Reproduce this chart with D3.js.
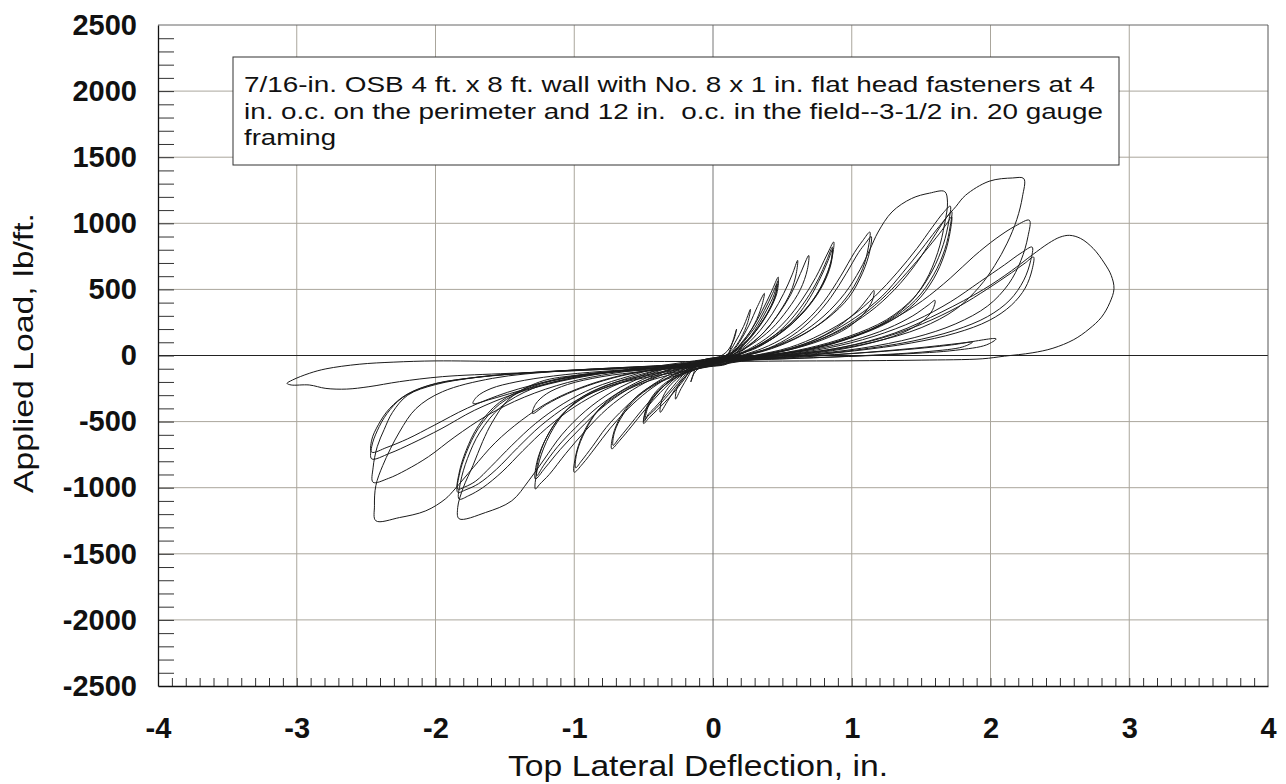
<!DOCTYPE html>
<html>
<head>
<meta charset="utf-8">
<script src="https://cdn.jsdelivr.net/npm/d3@7"></script>
<style>
  body { margin: 0; background: #fff; }
  svg { display: block; font-family: "Liberation Sans", Arial, sans-serif; }
</style>
</head>
<body>
<div id="chart"></div>
<script>
// axis ticks
var xTicks = [-4, -3, -2, -1, 0, 1, 2, 3, 4];
var yTicks = [-2500, -2000, -1500, -1000, -500, 0, 500, 1000, 1500, 2000, 2500];
var xGrid = [-3, -2, -1, 1, 2, 3];
var yGrid = [-2000, -1500, -1000, -500, 500, 1000, 1500, 2000];

var noteLines = [
  "7/16-in. OSB 4 ft. x 8 ft. wall with No. 8 x 1 in. flat head fasteners at 4",
  "in. o.c. on the perimeter and 12 in.  o.c. in the field--3-1/2 in. 20 gauge",
  "framing"
];
var noteWidths = [851, 859, 92];

// positive excursions (deflection in., load lb/ft.)
var posLoops = [
  [[0.1,0],[0.14,100],[0.17,200],[0.15,120],[0.1,30],[0.04,-10],[-0.06,-30]],
  [[0.1,0],[0.16,100],[0.22,220],[0.27,350],[0.25,250],[0.2,130],[0.13,30],[0.04,-25],[-0.08,-55]],
  [[0.12,0],[0.19,100],[0.26,230],[0.32,370],[0.37,470],[0.35,370],[0.3,240],[0.22,110],[0.13,20],[0.04,-18],[-0.05,-40]],
  [[0.12,0],[0.2,90],[0.28,200],[0.35,330],[0.42,480],[0.47,593],[0.46,500],[0.42,380],[0.35,250],[0.26,120],[0.16,30],[0.05,-30],[-0.1,-65]],
  [[0.13,0],[0.21,90],[0.3,210],[0.37,340],[0.43,470],[0.47,565],[0.46,470],[0.41,350],[0.33,220],[0.24,105],[0.15,25],[0.05,-12],[-0.06,-35]],
  [[0.14,0],[0.23,90],[0.32,220],[0.39,350],[0.44,460],[0.46,540],[0.45,450],[0.4,330],[0.32,200],[0.22,90],[0.13,20],[0.04,-22],[-0.07,-50]],
  [[0.14,0],[0.24,80],[0.34,190],[0.43,320],[0.51,470],[0.57,610],[0.61,720],[0.6,620],[0.56,480],[0.48,330],[0.38,190],[0.26,80],[0.14,5],[0.04,-35],[-0.1,-70]],
  [[0.15,0],[0.26,75],[0.37,180],[0.47,310],[0.56,460],[0.63,620],[0.69,757],[0.68,650],[0.63,500],[0.54,350],[0.42,200],[0.28,85],[0.15,10],[0.05,-18],[-0.05,-40]],
  [[0.16,0],[0.28,60],[0.41,150],[0.53,270],[0.64,420],[0.74,590],[0.82,760],[0.87,859],[0.86,750],[0.81,590],[0.72,420],[0.59,270],[0.44,150],[0.28,50],[0.14,-10],[0.03,-32],[-0.09,-60]],
  [[0.17,0],[0.3,60],[0.44,150],[0.56,270],[0.67,420],[0.76,580],[0.82,720],[0.86,820],[0.85,710],[0.8,560],[0.7,390],[0.57,240],[0.41,115],[0.25,35],[0.12,-5],[0.03,-15],[-0.06,-30]],
  [[0.18,0],[0.32,60],[0.47,160],[0.6,290],[0.7,440],[0.78,600],[0.83,720],[0.86,800],[0.85,690],[0.79,530],[0.68,360],[0.54,215],[0.38,100],[0.22,25],[0.1,-22],[0.01,-45],[-0.1,-75]],
  [[0.2,0],[0.36,55],[0.52,140],[0.67,260],[0.8,410],[0.92,600],[1.02,780],[1.08,870],[1.13,934],[1.12,820],[1.08,660],[0.99,480],[0.85,310],[0.67,170],[0.47,70],[0.28,10],[0.12,-18],[0.02,-30],[-0.07,-45]],
  [[0.22,0],[0.4,55],[0.57,150],[0.72,280],[0.85,440],[0.96,620],[1.05,780],[1.1,850],[1.14,900],[1.13,790],[1.08,630],[0.98,440],[0.83,285],[0.64,155],[0.43,60],[0.24,0],[0.1,-30],[0.0,-45],[-0.09,-60]],
  [[0.22,0],[0.42,60],[0.62,160],[0.8,300],[0.95,470],[1.06,650],[1.13,800],[1.19,934],[1.29,1086],[1.43,1187],[1.56,1228],[1.67,1240],[1.69,1160],[1.67,1000],[1.62,780],[1.53,560],[1.4,380],[1.2,230],[0.95,120],[0.65,40],[0.38,5],[0.15,-12],[0.01,-22],[-0.08,-35]],
  [[0.3,0],[0.55,50],[0.76,130],[0.93,240],[1.05,350],[1.12,440],[1.16,492],[1.15,420],[1.09,320],[0.97,210],[0.78,115],[0.54,40],[0.3,-10],[0.1,-40],[-0.1,-70]],
  [[0.3,0],[0.55,60],[0.78,160],[0.99,290],[1.17,450],[1.33,630],[1.47,810],[1.58,970],[1.66,1080],[1.71,1130],[1.7,1020],[1.66,840],[1.58,640],[1.45,440],[1.25,270],[0.98,145],[0.68,55],[0.38,0],[0.13,-25],[-0.06,-50]],
  [[0.32,0],[0.58,60],[0.82,160],[1.03,290],[1.22,450],[1.37,630],[1.5,800],[1.61,950],[1.68,1040],[1.72,1090],[1.71,980],[1.67,800],[1.59,610],[1.46,420],[1.26,260],[0.99,140],[0.69,50],[0.39,-5],[0.14,-40],[-0.1,-80]],
  [[0.34,0],[0.61,60],[0.86,165],[1.07,300],[1.25,460],[1.4,630],[1.53,790],[1.63,920],[1.69,1005],[1.72,1050],[1.71,940],[1.67,770],[1.59,580],[1.46,400],[1.27,255],[1.0,135],[0.7,45],[0.4,0],[0.15,-20],[-0.05,-40]],
  [[0.35,0],[0.63,70],[0.9,180],[1.13,330],[1.31,500],[1.46,690],[1.58,880],[1.68,1040],[1.75,1126],[1.82,1212],[1.99,1318],[2.16,1343],[2.24,1338],[2.23,1200],[2.19,1030],[2.12,850],[2.03,680],[1.92,520],[1.75,350],[1.5,210],[1.15,100],[0.78,30],[0.42,-10],[0.15,-35],[-0.08,-65]],
  [[0.4,0],[0.72,45],[1.01,115],[1.26,205],[1.44,300],[1.55,380],[1.6,417],[1.58,340],[1.5,250],[1.35,165],[1.1,85],[0.78,25],[0.43,-5],[0.15,-18],[-0.05,-30]],
  [[0.4,0],[0.72,55],[1.02,145],[1.28,265],[1.51,415],[1.71,585],[1.88,750],[2.04,885],[2.18,980],[2.28,1023],[2.27,900],[2.22,720],[2.13,540],[1.98,375],[1.75,240],[1.45,135],[1.07,55],[0.65,5],[0.28,-25],[0.05,-40],[-0.07,-55]],
  [[0.45,0],[0.82,55],[1.16,145],[1.46,265],[1.71,405],[1.92,555],[2.1,685],[2.22,775],[2.3,820],[2.29,720],[2.24,570],[2.14,420],[1.98,295],[1.74,190],[1.42,105],[1.02,40],[0.6,-5],[0.25,-35],[0.02,-55],[-0.1,-75]],
  [[0.48,0],[0.87,50],[1.21,130],[1.51,240],[1.77,370],[1.98,505],[2.15,625],[2.25,700],[2.31,745],[2.3,650],[2.25,510],[2.15,380],[1.99,265],[1.75,170],[1.43,95],[1.02,35],[0.6,-5],[0.25,-22],[0.04,-32],[-0.06,-45]],
  [[0.5,0],[0.92,60],[1.31,170],[1.65,330],[1.95,500],[2.15,640],[2.3,760],[2.42,850],[2.5,895],[2.57,909],[2.65,885],[2.74,810],[2.82,700],[2.87,606],[2.89,505],[2.86,400],[2.8,290],[2.71,200],[2.6,120],[2.45,55],[2.3,20],[2.1,-5],[1.94,-25],[1.5,-35],[1.0,-40],[0.5,-42],[0.1,-45]],
  [[0.5,-20],[1.0,15],[1.45,55],[1.8,95],[2.04,126],[1.97,80],[1.75,40],[1.35,10],[0.85,-12],[0.35,-30],[0.0,-45]],
  [[0.5,-15],[1.0,15],[1.45,50],[1.72,80],[1.87,101],[1.8,65],[1.55,30],[1.1,0],[0.6,-22],[0.15,-38],[-0.05,-45]]
];

// negative excursions
var negLoops = [
  [[-0.12,-70],[-0.14,-140],[-0.16,-200],[-0.14,-140],[-0.1,-95],[-0.03,-60],[0.06,-30]],
  [[-0.14,-90],[-0.18,-160],[-0.23,-250],[-0.27,-330],[-0.26,-250],[-0.21,-170],[-0.14,-110],[-0.04,-70],[0.08,-45]],
  [[-0.14,-80],[-0.2,-160],[-0.27,-250],[-0.33,-350],[-0.38,-430],[-0.37,-340],[-0.32,-240],[-0.24,-160],[-0.15,-100],[-0.05,-60],[0.05,-25]],
  [[-0.16,-100],[-0.2,-170],[-0.3,-300],[-0.4,-410],[-0.46,-470],[-0.5,-515],[-0.49,-430],[-0.45,-330],[-0.38,-240],[-0.28,-165],[-0.17,-115],[-0.05,-80],[0.1,-55]],
  [[-0.14,-70],[-0.22,-170],[-0.32,-295],[-0.41,-400],[-0.47,-460],[-0.5,-500],[-0.48,-410],[-0.43,-310],[-0.35,-225],[-0.25,-155],[-0.15,-100],[-0.05,-62],[0.06,-35]],
  [[-0.16,-85],[-0.24,-175],[-0.34,-300],[-0.42,-395],[-0.47,-450],[-0.49,-490],[-0.47,-395],[-0.41,-295],[-0.33,-210],[-0.23,-150],[-0.13,-108],[-0.03,-80],[0.09,-60]],
  [[-0.18,-100],[-0.27,-170],[-0.38,-280],[-0.49,-410],[-0.59,-540],[-0.67,-640],[-0.73,-706],[-0.72,-600],[-0.67,-470],[-0.58,-340],[-0.46,-240],[-0.32,-165],[-0.18,-105],[-0.06,-60],[0.05,-20]],
  [[-0.17,-80],[-0.29,-170],[-0.4,-280],[-0.51,-410],[-0.61,-540],[-0.68,-630],[-0.72,-680],[-0.71,-580],[-0.65,-450],[-0.56,-330],[-0.44,-235],[-0.3,-165],[-0.16,-115],[-0.04,-78],[0.08,-45]],
  [[-0.2,-100],[-0.32,-165],[-0.47,-270],[-0.61,-400],[-0.74,-550],[-0.85,-700],[-0.94,-820],[-1.0,-883],[-0.99,-760],[-0.94,-600],[-0.85,-440],[-0.72,-310],[-0.55,-215],[-0.36,-145],[-0.18,-95],[-0.05,-60],[0.06,-30]],
  [[-0.2,-80],[-0.35,-165],[-0.5,-270],[-0.64,-400],[-0.77,-545],[-0.87,-690],[-0.95,-800],[-0.99,-850],[-0.98,-730],[-0.92,-570],[-0.83,-420],[-0.69,-300],[-0.51,-210],[-0.33,-152],[-0.16,-112],[-0.03,-85],[0.1,-65]],
  [[-0.24,-100],[-0.4,-160],[-0.58,-260],[-0.76,-400],[-0.92,-570],[-1.06,-740],[-1.18,-900],[-1.25,-975],[-1.28,-1010],[-1.27,-880],[-1.22,-700],[-1.12,-500],[-0.98,-340],[-0.78,-230],[-0.54,-160],[-0.3,-110],[-0.1,-70],[0.06,-40]],
  [[-0.24,-80],[-0.43,-160],[-0.62,-260],[-0.8,-395],[-0.96,-555],[-1.1,-710],[-1.21,-850],[-1.28,-934],[-1.27,-810],[-1.21,-640],[-1.1,-460],[-0.94,-320],[-0.72,-220],[-0.48,-155],[-0.25,-105],[-0.08,-65],[0.05,-25]],
  [[-0.28,-95],[-0.46,-160],[-0.65,-260],[-0.83,-390],[-0.99,-545],[-1.12,-690],[-1.22,-830],[-1.27,-909],[-1.26,-790],[-1.2,-620],[-1.08,-440],[-0.91,-305],[-0.69,-215],[-0.45,-160],[-0.22,-118],[-0.06,-88],[0.1,-60]],
  [[-0.28,-80],[-0.5,-160],[-0.72,-270],[-0.92,-420],[-1.09,-600],[-1.22,-790],[-1.33,-950],[-1.45,-1099],[-1.64,-1188],[-1.83,-1235],[-1.84,-1150],[-1.8,-1000],[-1.73,-832],[-1.66,-650],[-1.59,-503],[-1.47,-330],[-1.25,-200],[-0.95,-145],[-0.6,-110],[-0.3,-85],[-0.08,-60],[0.06,-35]],
  [[-0.35,-100],[-0.6,-140],[-0.85,-210],[-1.05,-290],[-1.2,-370],[-1.3,-439],[-1.28,-370],[-1.2,-290],[-1.05,-220],[-0.8,-160],[-0.5,-120],[-0.22,-90],[-0.05,-70],[0.08,-50]],
  [[-0.3,-85],[-0.54,-160],[-0.78,-260],[-1.0,-390],[-1.2,-550],[-1.37,-720],[-1.52,-880],[-1.66,-1000],[-1.76,-1060],[-1.83,-1086],[-1.82,-960],[-1.77,-780],[-1.68,-580],[-1.53,-390],[-1.3,-250],[-1.0,-165],[-0.65,-115],[-0.3,-85],[-0.07,-55],[0.05,-20]],
  [[-0.34,-100],[-0.57,-158],[-0.82,-250],[-1.04,-375],[-1.24,-530],[-1.41,-700],[-1.56,-860],[-1.69,-970],[-1.78,-1015],[-1.84,-1035],[-1.83,-910],[-1.78,-740],[-1.69,-550],[-1.54,-370],[-1.31,-240],[-1.01,-160],[-0.66,-122],[-0.31,-100],[-0.07,-82],[0.1,-60]],
  [[-0.34,-80],[-0.6,-155],[-0.86,-245],[-1.08,-365],[-1.28,-515],[-1.45,-680],[-1.6,-840],[-1.71,-950],[-1.79,-995],[-1.84,-1010],[-1.83,-890],[-1.78,-720],[-1.69,-530],[-1.54,-355],[-1.31,-232],[-1.01,-155],[-0.66,-115],[-0.31,-88],[-0.07,-65],[0.06,-40]],
  [[-0.38,-100],[-0.64,-145],[-0.92,-230],[-1.17,-345],[-1.38,-490],[-1.57,-660],[-1.73,-850],[-1.86,-1010],[-1.93,-1086],[-2.07,-1175],[-2.26,-1226],[-2.43,-1250],[-2.44,-1137],[-2.43,-985],[-2.38,-832],[-2.26,-579],[-2.14,-401],[-1.95,-274],[-1.59,-173],[-1.11,-118],[-0.63,-90],[-0.25,-70],[-0.05,-50],[0.07,-25]],
  [[-0.4,-80],[-0.7,-120],[-0.98,-165],[-1.22,-220],[-1.42,-275],[-1.6,-330],[-1.73,-363],[-1.7,-310],[-1.6,-250],[-1.42,-200],[-1.15,-155],[-0.8,-120],[-0.45,-98],[-0.15,-80],[0.1,-55]],
  [[-0.4,-95],[-0.72,-135],[-1.05,-205],[-1.36,-315],[-1.63,-455],[-1.86,-615],[-2.05,-765],[-2.21,-865],[-2.34,-930],[-2.45,-959],[-2.45,-850],[-2.42,-690],[-2.37,-560],[-2.31,-430],[-2.2,-300],[-2.0,-220],[-1.7,-165],[-1.3,-128],[-0.8,-100],[-0.35,-80],[-0.05,-60],[0.06,-35]],
  [[-0.42,-85],[-0.76,-130],[-1.1,-195],[-1.43,-290],[-1.72,-415],[-1.96,-555],[-2.17,-665],[-2.33,-740],[-2.46,-782],[-2.46,-690],[-2.42,-570],[-2.35,-440],[-2.24,-320],[-2.05,-228],[-1.75,-170],[-1.35,-132],[-0.85,-108],[-0.38,-92],[-0.05,-80],[0.1,-60]],
  [[-0.44,-95],[-0.8,-128],[-1.15,-188],[-1.48,-278],[-1.77,-398],[-2.01,-528],[-2.2,-630],[-2.35,-695],[-2.46,-731],[-2.46,-640],[-2.41,-520],[-2.33,-400],[-2.2,-290],[-2.0,-212],[-1.7,-165],[-1.3,-130],[-0.82,-100],[-0.36,-75],[-0.05,-55],[0.05,-40]],
  [[-0.5,-45],[-1.0,-45],[-1.5,-45],[-2.0,-41],[-2.3,-50],[-2.55,-66],[-2.79,-101],[-2.91,-135],[-3.03,-185],[-3.07,-211],[-3.04,-223],[-2.91,-223],[-2.79,-249],[-2.64,-254],[-2.48,-236],[-2.26,-198],[-1.95,-160],[-1.47,-135],[-0.87,-109],[-0.28,-71],[0.03,-40]]
];

var width = 1286, height = 784;
var x = d3.scaleLinear().domain([-4, 4]).range([158, 1268]);
var y = d3.scaleLinear().domain([-2500, 2500]).range([686, 25]);

var svg = d3.select("#chart").append("svg")
  .attr("width", width)
  .attr("height", height);

// grid
svg.append("g").selectAll("line").data(xGrid).enter().append("line")
  .attr("x1", d => x(d)).attr("x2", d => x(d))
  .attr("y1", y(2500)).attr("y2", y(-2500))
  .style("stroke", "#aaa69c").style("stroke-width", 1);
svg.append("g").selectAll("line").data(yGrid).enter().append("line")
  .attr("x1", x(-4)).attr("x2", x(4))
  .attr("y1", d => y(d)).attr("y2", d => y(d))
  .style("stroke", "#aaa69c").style("stroke-width", 1);
svg.append("line")
  .attr("x1", x(0)).attr("x2", x(0)).attr("y1", y(2500)).attr("y2", y(-2500))
  .style("stroke", "#777").style("stroke-width", 1);
svg.append("line")
  .attr("x1", x(-4)).attr("x2", x(4)).attr("y1", y(0)).attr("y2", y(0))
  .style("stroke", "#222").style("stroke-width", 1.2);

// frame
svg.append("line").attr("x1", x(-4)).attr("x2", x(4)).attr("y1", y(2500)).attr("y2", y(2500))
  .style("stroke", "#666");
svg.append("line").attr("x1", x(4)).attr("x2", x(4)).attr("y1", y(2500)).attr("y2", y(-2500))
  .style("stroke", "#555");

// minor ticks
var minorY = d3.range(-24, 25).map(d => d * 100);
var minorX = d3.range(-39, 40).map(d => d / 10);
svg.append("g")
  .attr("transform", "translate(" + x(-4) + ",0)")
  .call(d3.axisRight(y).tickValues(minorY).tickSize(16).tickFormat(""))
  .call(g => g.select(".domain").remove())
  .selectAll("line").style("stroke", "#333");
svg.append("g")
  .attr("transform", "translate(0," + y(-2500) + ")")
  .call(d3.axisTop(x).tickValues(minorX).tickSize(8).tickFormat(""))
  .call(g => g.select(".domain").remove())
  .selectAll("line").style("stroke", "#333");

// main axes
var plain = d => String(d);
var yAxis = svg.append("g")
  .attr("transform", "translate(" + x(-4) + ",0)")
  .call(d3.axisLeft(y).tickValues(yTicks).tickSize(0).tickPadding(21).tickFormat(plain));
yAxis.select(".domain").style("stroke", "#111").style("stroke-width", 1.3);
yAxis.selectAll("text")
  .style("font-family", "'Liberation Sans', Arial, sans-serif")
  .style("font-size", "29px").style("font-weight", "bold").style("fill", "#111");

var xAxis = svg.append("g")
  .attr("transform", "translate(0," + y(-2500) + ")")
  .call(d3.axisBottom(x).tickValues(xTicks).tickSize(0).tickPadding(31).tickFormat(plain));
xAxis.select(".domain").style("stroke", "#111").style("stroke-width", 1.3);
xAxis.selectAll("text")
  .style("font-family", "'Liberation Sans', Arial, sans-serif")
  .style("font-size", "29px").style("font-weight", "bold").style("fill", "#111");

// hysteresis trace, alternating positive and negative excursions
var path = [[0, -40]];
var n = Math.max(posLoops.length, negLoops.length);
for (var i = 0; i < n; i++) {
  if (posLoops[i]) path = path.concat(posLoops[i]);
  if (negLoops[i]) path = path.concat(negLoops[i]);
}

var line = d3.line()
  .x(d => x(d[0]))
  .y(d => y(d[1]))
  .curve(d3.curveCatmullRom.alpha(0.5));

svg.append("path")
  .datum(path)
  .attr("d", line)
  .style("fill", "none")
  .style("stroke", "#1b1b1b")
  .style("stroke-width", 1);

// note box
svg.append("rect")
  .attr("x", 233).attr("y", 57).attr("width", 886).attr("height", 108)
  .style("fill", "#fff").style("stroke", "#333").style("stroke-width", 1);
svg.append("g").selectAll("text").data(noteLines).enter().append("text")
  .attr("x", 244)
  .attr("y", (d, i) => 92 + i * 26.5)
  .attr("textLength", (d, i) => noteWidths[i])
  .attr("lengthAdjust", "spacingAndGlyphs")
  .style("font-size", "22px")
  .style("fill", "#111")
  .style("white-space", "pre")
  .text(d => d);

// axis titles
svg.append("text")
  .attr("x", 508).attr("y", 776)
  .attr("textLength", 380).attr("lengthAdjust", "spacingAndGlyphs")
  .style("font-size", "29px").style("fill", "#111")
  .text("Top Lateral Deflection, in.");

svg.append("text")
  .attr("transform", "translate(33,493) rotate(-90)")
  .attr("textLength", 280).attr("lengthAdjust", "spacingAndGlyphs")
  .style("font-size", "28px").style("fill", "#111")
  .text("Applied Load, lb/ft.");
</script>
</body>
</html>
